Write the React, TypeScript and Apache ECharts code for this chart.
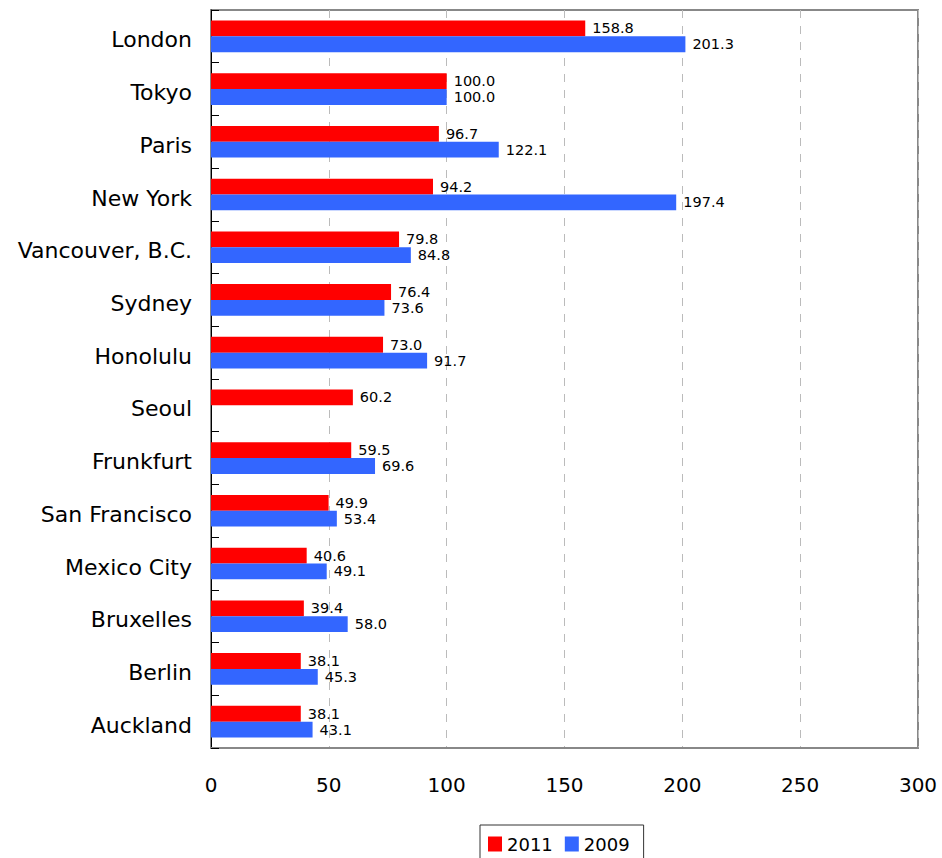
import React, { useEffect, useRef } from "react";
import * as echarts from "echarts";

const cities = [
  "London",
  "Tokyo",
  "Paris",
  "New York",
  "Vancouver, B.C.",
  "Sydney",
  "Honolulu",
  "Seoul",
  "Frunkfurt",
  "San Francisco",
  "Mexico City",
  "Bruxelles",
  "Berlin",
  "Auckland",
];
const values2011 = [158.8, 100.0, 96.7, 94.2, 79.8, 76.4, 73.0, 60.2, 59.5, 49.9, 40.6, 39.4, 38.1, 38.1];
const values2009: (number | null)[] = [201.3, 100.0, 122.1, 197.4, 84.8, 73.6, 91.7, null, 69.6, 53.4, 49.1, 58.0, 45.3, 43.1];
const seriesNames = ["2011", "2009"];
const xTicks = { min: 0, max: 300, interval: 50 };

const FONT = "'DejaVu Sans', sans-serif";

export default function App() {
  const ref = useRef<HTMLDivElement>(null);
  useEffect(() => {
    if (!ref.current) return;
    const chart = echarts.init(ref.current, undefined, { renderer: "svg" });
    const labelOpt = {
      show: true,
      position: "right" as const,
      distance: 7,
      fontSize: 14.5,
      color: "#000",
      fontFamily: FONT,
      formatter: (p: any) => (p.value == null ? "" : Number(p.value).toFixed(1)),
    };
    chart.setOption({
      animation: false,
      textStyle: { fontFamily: FONT },
      grid: {
        left: 211,
        right: 24,
        top: 10,
        bottom: 110,
        show: true,
        borderColor: "#888",
        borderWidth: 2,
        containLabel: false,
      },
      legend: {
        data: seriesNames,
        left: 480,
        top: 825,
        itemWidth: 14,
        itemHeight: 15,
        itemGap: 12,
        borderColor: "#333",
        borderWidth: 1,
        padding: [10, 14, 20, 8],
        textStyle: { fontSize: 18, color: "#000", fontFamily: FONT },
        icon: "rect",
      },
      xAxis: {
        type: "value",
        min: xTicks.min,
        max: xTicks.max,
        interval: xTicks.interval,
        axisLine: { show: true, lineStyle: { color: "#888", width: 2 } },
        axisTick: { show: false },
        splitLine: { show: true, lineStyle: { color: "#bbb", type: [8, 8], width: 1 } },
        axisLabel: { fontSize: 20, color: "#000", margin: 27, fontFamily: FONT },
      },
      yAxis: {
        type: "category",
        data: cities,
        inverse: true,
        axisLine: { show: true, lineStyle: { color: "#000", width: 1 } },
        axisTick: { show: true, inside: true, length: 8, lineStyle: { color: "#000" } },
        axisLabel: {
          fontSize: 22,
          color: "#000",
          margin: 19,
          fontFamily: FONT,
          formatter: (v: string) => `{c|${v}}`,
          rich: {
            c: { fontSize: 22, color: "#000", fontFamily: FONT, padding: [7, 0, 0, 0] },
          },
        },
        splitLine: { show: false },
      },
      series: [
        {
          name: seriesNames[0],
          type: "bar",
          data: values2011,
          itemStyle: { color: "#FF0000" },
          barGap: "0%",
          barCategoryGap: "40%",
          label: labelOpt,
        },
        {
          name: seriesNames[1],
          type: "bar",
          data: values2009,
          itemStyle: { color: "#3366FF" },
          barGap: "0%",
          barCategoryGap: "40%",
          label: labelOpt,
        },
      ],
    });
    return () => chart.dispose();
  }, []);
  return (
    <div
      ref={ref}
      style={{ position: "absolute", left: 0, top: 0, width: 942, height: 858 }}
    />
  );
}
